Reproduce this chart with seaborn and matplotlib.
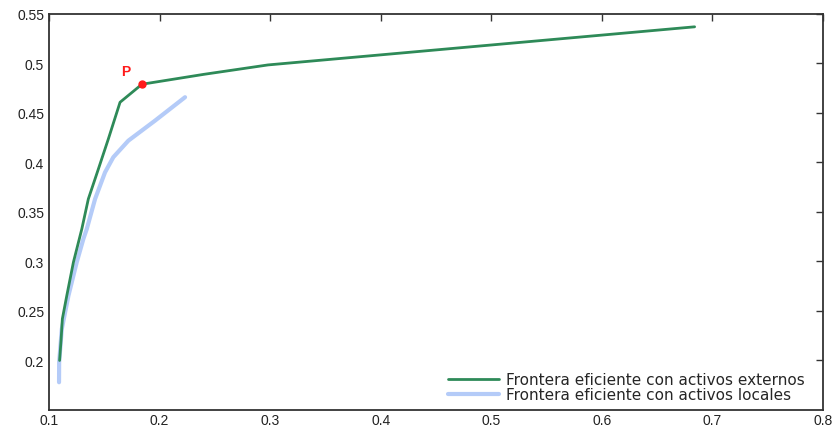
import matplotlib
matplotlib.use("Agg")
import matplotlib.pyplot as plt
import seaborn as sns
import pandas as pd

# Efficient frontier with foreign assets (risk, return)
ext_risk = [0.1095, 0.1109, 0.112, 0.116, 0.122, 0.1296, 0.1355, 0.1446, 0.1536, 0.1642, 0.184, 0.240, 0.298, 0.684]
ext_ret = [0.200, 0.2217, 0.242, 0.2654, 0.2992, 0.3328, 0.3631, 0.3934, 0.4237, 0.4608, 0.479, 0.489, 0.4985, 0.537]

# Efficient frontier with local assets only
loc_risk = [0.109, 0.1091, 0.1115, 0.1175, 0.125, 0.131, 0.1341, 0.1416, 0.1506, 0.1581, 0.1717, 0.1958, 0.223]
loc_ret = [0.178, 0.1982, 0.2318, 0.2654, 0.2992, 0.3227, 0.3328, 0.3631, 0.390, 0.4053, 0.422, 0.4422, 0.4659]

# Tangency portfolio P
p_risk = [0.184]
p_ret = [0.479]

x_ticks = [0.1, 0.2, 0.3, 0.4, 0.5, 0.6, 0.7, 0.8]
y_ticks = [0.2, 0.25, 0.3, 0.35, 0.4, 0.45, 0.5, 0.55]

sns.set_style("white")
plt.rcParams["font.family"] = ["Liberation Sans", "DejaVu Sans"]

fig = plt.figure(figsize=(8.32, 4.27), dpi=100)
ax = fig.add_axes([0.059, 0.0375, 0.930, 0.9275])

ext = pd.DataFrame({"risk": ext_risk, "ret": ext_ret})
loc = pd.DataFrame({"risk": loc_risk, "ret": loc_ret})

sns.lineplot(data=ext, x="risk", y="ret", sort=False, estimator=None,
             color="#2e8a58", lw=2.0,
             label="Frontera eficiente con activos externos", ax=ax, zorder=3)
sns.lineplot(data=loc, x="risk", y="ret", sort=False, estimator=None,
             color="#b4cbf8", lw=3.0,
             label="Frontera eficiente con activos locales", ax=ax, zorder=2)
ax.plot(p_risk, p_ret, "o", color="#ff1a1a", ms=5, zorder=4)
ax.text(p_risk[0] - 0.0145, p_ret[0] + 0.0135, "P", color="#ff1a1a", fontsize=10,
        fontweight="bold", ha="center", va="center")

ax.set_xlim(0.1, 0.8)
ax.set_ylim(0.15, 0.55)
ax.set_xticks(x_ticks)
ax.set_xticklabels([f"{v:g}" for v in x_ticks])
ax.set_yticks(y_ticks)
ax.set_yticklabels([f"{v:g}" for v in y_ticks])
ax.set_xlabel("")
ax.set_ylabel("")
ax.tick_params(direction="in", length=5, width=1, colors="#333333", labelsize=10,
               top=True, right=True, labelcolor="#222222")
ax.tick_params(axis="x", pad=2)
for s in ax.spines.values():
    s.set_visible(True)
    s.set_color("#333333")
    s.set_linewidth(1.3)

leg = ax.legend(loc="lower right", frameon=False,
                prop={"family": "DejaVu Sans", "size": 11},
                handlelength=3.3, handletextpad=0.5, borderaxespad=0.0,
                labelspacing=0.0, bbox_to_anchor=(0.985, 0.005))

fig.savefig("out.png", dpi=100)
